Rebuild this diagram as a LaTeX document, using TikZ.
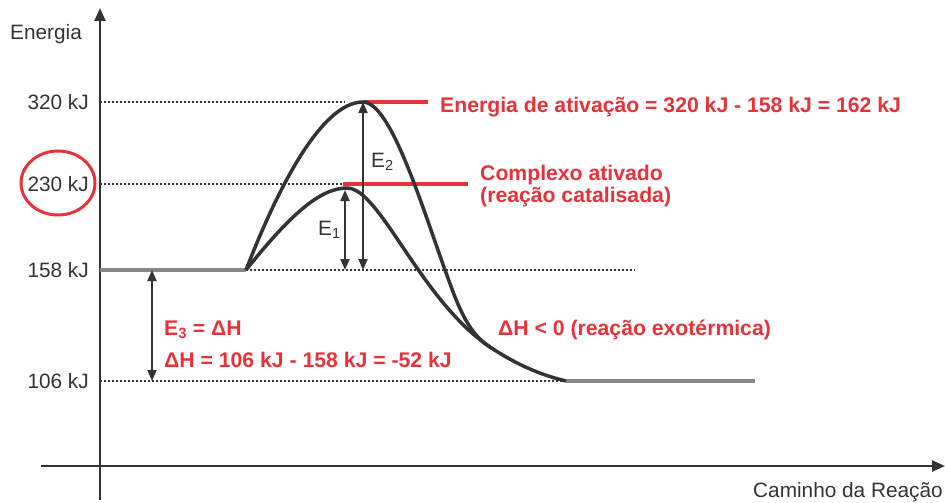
\documentclass[tikz,border=0pt]{standalone}
\usepackage{fontspec}
\setmainfont{Liberation Sans}
\usetikzlibrary{arrows.meta}
\definecolor{ink}{RGB}{51,51,51}
\definecolor{redtxt}{RGB}{232,50,58}
\definecolor{lvl}{RGB}{136,136,136}
\tikzset{
  axisline/.style={ink, line width=2.4pt, -{Triangle[length=13pt,width=11pt]}},
  dotline/.style={ink, line width=2pt, dash pattern=on 2pt off 2pt},
  levelline/.style={lvl, line width=4pt},
  redline/.style={redtxt, line width=4pt},
  curveline/.style={ink, line width=3.5pt, line join=round},
  dimarrow/.style={ink, line width=2pt, {Triangle[length=11pt,width=9pt]}-{Triangle[length=11pt,width=9pt]}},
  ticklabel/.style={font=\fontsize{20.8}{23}\selectfont, text=ink, anchor=east, inner sep=0pt},
  plain/.style={font=\fontsize{20.8}{23}\selectfont, text=ink, inner sep=0pt},
  redlabel/.style={font=\fontsize{21.2}{23}\selectfont\bfseries, text=redtxt, inner sep=0pt, anchor=west, align=left}
}
\begin{document}
\begin{tikzpicture}[x=1pt,y=-1pt]
\useasboundingbox (0,0) rectangle (945,503);
% coordinates
\coordinate (yb) at (100,500);
\coordinate (yt) at (100,8);
\coordinate (xl) at (41,466);
\coordinate (xr) at (945,466);
\coordinate (r0) at (100,270);
\coordinate (r1) at (246,270);
\coordinate (r2) at (635,270);
\coordinate (p0) at (100,381);
\coordinate (p1) at (566,381);
\coordinate (p2) at (755,381);
\coordinate (a0) at (100,102);
\coordinate (a1) at (345,102);
\coordinate (a2) at (363,102);
\coordinate (a3) at (428,102);
\coordinate (c0) at (100,184);
\coordinate (c1) at (343,184);
\coordinate (c2) at (468,184);
\coordinate (top2) at (363,102);
\coordinate (top1) at (347,188);
\coordinate (mid) at (445,270);
\coordinate (merge) at (490,347);
\coordinate (e2t) at (363,102);
\coordinate (e2b) at (363,270);
\coordinate (e1t) at (345,190);
\coordinate (e1b) at (345,270);
\coordinate (e3t) at (152,270);
\coordinate (e3b) at (152,381);
% axes
\draw[axisline] (yb) -- (yt);
\draw[axisline] (xl) -- (xr);
% dotted guides
\draw[dotline] (a0) -- (a1);
\draw[dotline] (c0) -- (c1);
\draw[dotline] (r1) -- (r2);
\draw[dotline] (p0) -- (p1);
% red marks
\draw[redline] (a2) -- (a3);
\draw[redline] (c1) -- (c2);
% levels
\draw[levelline] (r0) -- (r1);
\draw[levelline] (p1) -- (p2);
% curves
\draw[curveline] (r1) .. controls (275,195) and (320,102) .. (top2)
  .. controls (390,102) and (420,200) .. (mid)
  .. controls (456,300) and (466,332) .. (merge)
  .. controls (520,367) and (545,376) .. (p1);
\draw[curveline] (r1) .. controls (290,215) and (320,188) .. (top1)
  .. controls (380,188) and (420,300) .. (merge);
% dimension arrows
\draw[dimarrow] (e2t) -- (e2b);
\draw[dimarrow] (e1t) -- (e1b);
\draw[dimarrow] (e3t) -- (e3b);
% labels
\node[plain, anchor=base west] (lEn) at (10,40) {Energia};
\node[plain, anchor=base east] (lCam) at (943,497) {Caminho da Reação};
\node[ticklabel] (l320) at (89,102) {320 kJ};
\node[ticklabel] (l230) at (89,184) {230 kJ};
\node[ticklabel] (l158) at (89,270) {158 kJ};
\node[ticklabel] (l106) at (89,381) {106 kJ};
\draw[redtxt, line width=3pt] (58,183) ellipse (37pt and 32pt);
\node[plain, anchor=base west] (lE2) at (371,167) {E\textsubscript{2}};
\node[plain, anchor=base west] (lE1) at (318,235) {E\textsubscript{1}};
\node[redlabel, anchor=base west] (lAct) at (440,112) {Energia de ativação = 320 kJ - 158 kJ = 162 kJ};
\node[redlabel, anchor=base west] (lCx) at (480,180) {Complexo ativado};
\node[redlabel, anchor=base west] (lCx2) at (480,202) {(reação catalisada)};
\node[redlabel, anchor=base west] (lE3) at (164,335) {E\textsubscript{3} = ΔH};
\node[redlabel, anchor=base west] (lDH) at (164,367) {ΔH = 106 kJ - 158 kJ = -52 kJ};
\node[redlabel, anchor=base west] (lEx) at (498,335) {ΔH < 0 (reação exotérmica)};
\end{tikzpicture}
\end{document}
